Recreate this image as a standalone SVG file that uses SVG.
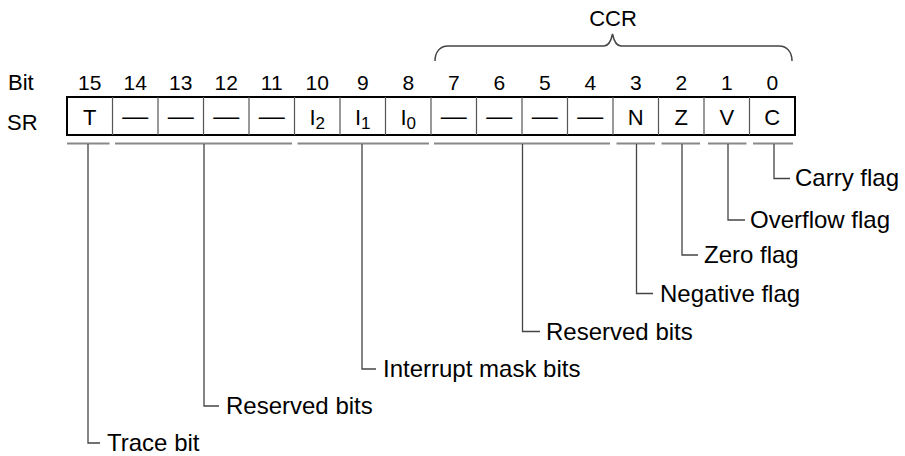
<svg xmlns="http://www.w3.org/2000/svg" width="905" height="456" viewBox="0 0 905 456">
<style>
text{font-family:"Liberation Sans",Arial,sans-serif;fill:#000}
.hd{font-size:22px}
.num{font-size:21px;text-anchor:middle}
.cell{font-size:22px;text-anchor:middle}
.dash{font-size:22px;text-anchor:middle}
.sub{font-size:17px}
.lbl{font-size:24px}
.div{stroke:#555;stroke-width:1.2}
.ul{stroke:#888;stroke-width:2;fill:none}
.ld{stroke:#444;stroke-width:1.3;fill:none}
</style>
<rect width="905" height="456" fill="#fff"/>
<g id="header">
<text class="hd" x="8" y="90">Bit</text>
<text class="hd" x="7" y="130">SR</text>
<text class="num" x="89.75" y="90">15</text>
<text class="num" x="135.25" y="90">14</text>
<text class="num" x="180.75" y="90">13</text>
<text class="num" x="226.25" y="90">12</text>
<text class="num" x="271.75" y="90">11</text>
<text class="num" x="317.25" y="90">10</text>
<text class="num" x="362.75" y="90">9</text>
<text class="num" x="408.25" y="90">8</text>
<text class="num" x="453.75" y="90">7</text>
<text class="num" x="499.25" y="90">6</text>
<text class="num" x="544.75" y="90">5</text>
<text class="num" x="590.25" y="90">4</text>
<text class="num" x="635.75" y="90">3</text>
<text class="num" x="681.25" y="90">2</text>
<text class="num" x="726.75" y="90">1</text>
<text class="num" x="772.25" y="90">0</text>
</g>
<g id="ccr">
<path d="M435,61 C435,52 440,46 448,46 L604,46 C608,46 611,41 612.5,34 C614,41 617,46 621,46 L779,46 C787,46 792,52 792,61" fill="none" stroke="#444" stroke-width="1.5"/>
<text class="hd" x="613" y="26" text-anchor="middle">CCR</text>
</g>
<g id="register">
<rect x="67" y="97" width="728" height="38" fill="#fff" stroke="#000" stroke-width="2"/>
<path class="div" d="M112.5,97V135M158,97V135M203.5,97V135M249,97V135M294.5,97V135M340,97V135M385.5,97V135M431,97V135M476.5,97V135M522,97V135M567.5,97V135M613,97V135M658.5,97V135M704,97V135M749.5,97V135"/>
<text class="cell" x="89.75" y="124.5">T</text>
<text class="dash" x="135.25" y="124" textLength="26" lengthAdjust="spacingAndGlyphs">—</text>
<text class="dash" x="180.75" y="124" textLength="26" lengthAdjust="spacingAndGlyphs">—</text>
<text class="dash" x="226.25" y="124" textLength="26" lengthAdjust="spacingAndGlyphs">—</text>
<text class="dash" x="271.75" y="124" textLength="26" lengthAdjust="spacingAndGlyphs">—</text>
<text class="cell" x="317.25" y="124.5">I<tspan class="sub" dy="4">2</tspan></text>
<text class="cell" x="362.75" y="124.5">I<tspan class="sub" dy="4">1</tspan></text>
<text class="cell" x="408.25" y="124.5">I<tspan class="sub" dy="4">0</tspan></text>
<text class="dash" x="453.75" y="124" textLength="26" lengthAdjust="spacingAndGlyphs">—</text>
<text class="dash" x="499.25" y="124" textLength="26" lengthAdjust="spacingAndGlyphs">—</text>
<text class="dash" x="544.75" y="124" textLength="26" lengthAdjust="spacingAndGlyphs">—</text>
<text class="dash" x="590.25" y="124" textLength="26" lengthAdjust="spacingAndGlyphs">—</text>
<text class="cell" x="635.75" y="124.5">N</text>
<text class="cell" x="681.25" y="124.5">Z</text>
<text class="cell" x="726.75" y="124.5">V</text>
<text class="cell" x="772.25" y="124.5">C</text>
</g>
<g id="connectors">
<path class="ul" d="M67,143.5H109.5M115,143.5H292M297.5,143.5H429M434,143.5H610M616.5,143.5H655M661.5,143.5H700M708,143.5H746.5M753,143.5H793"/>
<path class="ld" d="M88,144V443H100"/>
<path class="ld" d="M204,144V406H219"/>
<path class="ld" d="M362,144V369H376"/>
<path class="ld" d="M522.5,144V331.5H540"/>
<path class="ld" d="M636.5,144V293.5H653"/>
<path class="ld" d="M682,144V255H698"/>
<path class="ld" d="M728,144V220H745"/>
<path class="ld" d="M774,144V178.5H790"/>
</g>
<g id="label-trace"><text class="lbl" x="107" y="451">Trace bit</text></g>
<g id="label-reserved-hi"><text class="lbl" x="226" y="414">Reserved bits</text></g>
<g id="label-interrupt"><text class="lbl" x="383" y="377">Interrupt mask bits</text></g>
<g id="label-reserved-lo"><text class="lbl" x="546" y="339.5">Reserved bits</text></g>
<g id="label-negative"><text class="lbl" x="660" y="301.5">Negative flag</text></g>
<g id="label-zero"><text class="lbl" x="704" y="263">Zero flag</text></g>
<g id="label-overflow"><text class="lbl" x="750" y="228">Overflow flag</text></g>
<g id="label-carry"><text class="lbl" x="795" y="186">Carry flag</text></g>
</svg>
